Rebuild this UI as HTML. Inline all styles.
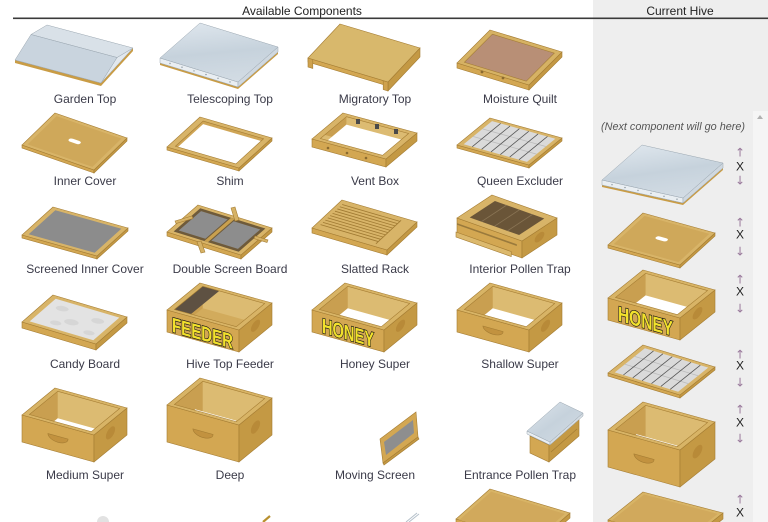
<!DOCTYPE html>
<html><head><meta charset="utf-8"><style>
html,body{margin:0;padding:0;background:#fff;}
svg{display:block}
.s{stroke:#a57d33;stroke-width:.6px;vector-effect:non-scaling-stroke}
.m{stroke:#9aa6b0;stroke-width:.5px;vector-effect:non-scaling-stroke}
.ln{fill:none}
.ln line{stroke-width:.8px;vector-effect:non-scaling-stroke}
.lb{font-family:"Liberation Sans",sans-serif;font-size:12px;fill:#3a3a48;text-anchor:middle}
.bt{font-family:"Liberation Sans Narrow","Liberation Sans",sans-serif;font-weight:bold;fill:#f2e12c;stroke:#151515;stroke-width:1.4px;paint-order:stroke fill}
.ar{font-family:"DejaVu Sans","Liberation Sans",sans-serif;font-size:12px;fill:#9a7a9c;text-anchor:middle}
.x{font-family:"Liberation Sans",sans-serif;font-size:12px;fill:#222;text-anchor:middle}
</style></head><body>
<svg width="768" height="522" viewBox="0 0 768 522" xmlns="http://www.w3.org/2000/svg">
<defs>
<clipPath id="c6"><rect x=".06" y=".06" width=".88" height=".88"/></clipPath>
<clipPath id="c7"><rect x=".07" y=".07" width=".86" height=".86"/></clipPath>
<clipPath id="c8"><rect x=".08" y=".08" width=".84" height=".84"/></clipPath>
<linearGradient id="mt" x1="0" y1="0" x2="1" y2="1"><stop offset="0" stop-color="#dde5ec"/><stop offset=".5" stop-color="#c6d2dc"/><stop offset="1" stop-color="#d3dce4"/></linearGradient>
</defs>

<!-- panels & headers -->
<rect x="593" y="0" width="175" height="522" fill="#eeeeee"/>
<rect x="753" y="111" width="15" height="411" fill="#f5f5f5"/>
<polygon points="757,119 760,115 763,119" fill="#b0b0b0"/>
<rect x="13" y="17.5" width="755" height="1.6" fill="#3a3a3a"/>
<text x="302" y="15" class="lb" style="fill:#222">Available Components</text>
<text x="680" y="15" class="lb" style="fill:#222">Current Hive</text>

<!-- ===== Row 1 ===== -->
<!-- Garden Top -->
<polygon fill="#c99c45" points="15,60 101,83 133,48 133,51 101,86 15,63"/>
<polygon fill="#e2e8ee" class="m" points="133,48 117,57.5 101,83"/>
<polygon fill="#d9e1e8" class="m" points="47,25 133,48 117,57.5 31,34.5"/>
<polygon fill="#c9d4de" class="m" points="31,34.5 117,57.5 101,83 15,60"/>

<!-- Telescoping Top -->
<polygon fill="#c99c45" points="160,63 238,87 278,52 278,54 238,89 160,65"/>
<rect class="m" fill="#e9eef2" width="1" height="1" transform="matrix(78,24,0,5,160,58)"/>
<rect class="m" fill="#cfd8e0" width="1" height="1" transform="matrix(-40,35,0,5,278,47)"/>
<rect class="m" fill="url(#mt)" width="1" height="1" transform="matrix(78,24,-40,35,200,23)"/>
<g fill="#8a96a0"><circle cx="170" cy="63.5" r=".7"/><circle cx="182" cy="67.2" r=".7"/><circle cx="194" cy="70.9" r=".7"/><circle cx="206" cy="74.6" r=".7"/><circle cx="218" cy="78.3" r=".7"/><circle cx="230" cy="82" r=".7"/></g>

<!-- Migratory Top -->
<rect class="s" fill="#c49944" width="1" height="1" transform="matrix(-32,34,0,9,420,48)"/>
<rect class="s" fill="#d3a752" width="1" height="1" transform="matrix(80,24,0,4,308,58)"/>
<rect class="s" fill="#cfa24e" width=".06" height="1" transform="matrix(80,24,0,9,308,58)"/>
<rect class="s" fill="#cfa24e" x=".94" width=".06" height="1" transform="matrix(80,24,0,9,308,58)"/>
<rect class="s" fill="#d8b86c" width="1" height="1" transform="matrix(80,24,-32,34,340,24)"/>

<!-- Moisture Quilt -->
<rect class="s" fill="#d3a752" width="1" height="1" transform="matrix(72,22,0,5,457,63)"/>
<rect class="s" fill="#c49944" width="1" height="1" transform="matrix(-33,33,0,5,562,52)"/>
<g transform="matrix(72,22,-33,33,490,30)">
<rect class="s" fill="#d6b264" width="1" height="1"/>
<rect class="s" fill="#b88f76" x=".07" y=".08" width=".86" height=".85"/>
</g>
<circle cx="482" cy="72" r="1.4" fill="#8a6a30"/><circle cx="503" cy="78" r="1.4" fill="#8a6a30"/>

<!-- ===== Row 2 ===== -->
<!-- Inner Cover -->
<rect class="s" fill="#d3a752" width="1" height="1" transform="matrix(72,25,0,3,22,145)"/>
<rect class="s" fill="#c49944" width="1" height="1" transform="matrix(-33,32,0,3,127,138)"/>
<g transform="matrix(72,25,-33,32,55,113)">
<rect class="s" fill="#d8b468" width="1" height="1"/>
<rect fill="#cfa85a" x=".05" y=".06" width=".9" height=".88"/>
<rect fill="#fff" x=".42" y=".45" width=".16" height=".09" rx=".04"/>
</g>

<!-- Shim -->
<rect class="s" fill="#d3a752" width="1" height="1" transform="matrix(72,21,0,3,167,147)"/>
<rect class="s" fill="#c49944" width="1" height="1" transform="matrix(-33,30,0,3,272,138)"/>
<g transform="matrix(72,21,-33,30,200,117)">
<rect class="s" fill="#d8b468" width="1" height="1"/>
<g clip-path="url(#c8)"><rect fill="#cfa555" width="1" height="1"/><rect fill="#fff" x=".115" y=".156" width=".84" height=".84"/></g>
<rect class="s" fill="none" x=".08" y=".08" width=".84" height=".84"/>
</g>

<!-- Vent Box -->
<rect class="s" fill="#d3a752" width="1" height="1" transform="matrix(74,20,0,8,312,139)"/>
<rect class="s" fill="#c49944" width="1" height="1" transform="matrix(-31,26,0,8,417,133)"/>
<g transform="matrix(74,20,-31,26,343,113)">
<rect class="s" fill="#d8b468" width="1" height="1"/>
<g clip-path="url(#c8)"><rect fill="#dcbb72" width="1" height="1"/><polygon fill="#c99f50" points=".08,.08 .371,.779 -.1,.779"/><rect fill="#fff" x=".177" y=".313" width=".84" height=".84"/></g>
<rect class="s" fill="none" x=".08" y=".08" width=".84" height=".84"/>
</g>
<g fill="#4a4a4a"><rect x="356" y="119" width="4" height="5"/><rect x="375" y="124" width="4" height="5"/><rect x="394" y="129" width="4" height="5"/></g>
<g fill="#8a6a30"><circle cx="328" cy="148" r="1.3"/><circle cx="347" cy="153" r="1.3"/><circle cx="366" cy="158" r="1.3"/></g>

<!-- Queen Excluder -->
<rect class="s" fill="#d3a752" width="1" height="1" transform="matrix(72,20,0,3,457,145)"/>
<rect class="s" fill="#c49944" width="1" height="1" transform="matrix(-33,27,0,3,562,138)"/>
<g transform="matrix(72,20,-33,27,490,118)">
<rect class="s" fill="#d8b468" width="1" height="1"/>
<rect fill="#dadada" x=".06" y=".07" width=".88" height=".86"/>
<g class="ln" stroke="#bbb"><line x1=".06" y1=".36" x2=".94" y2=".36"/><line x1=".06" y1=".64" x2=".94" y2=".64"/></g>
<g class="ln" stroke="#555"><line x1=".18" y1=".07" x2=".18" y2=".93"/><line x1=".31" y1=".07" x2=".31" y2=".93"/><line x1=".44" y1=".07" x2=".44" y2=".93"/><line x1=".57" y1=".07" x2=".57" y2=".93"/><line x1=".70" y1=".07" x2=".70" y2=".93"/><line x1=".83" y1=".07" x2=".83" y2=".93"/></g>
</g>

<!-- ===== Row 3 ===== -->
<!-- Screened Inner Cover -->
<rect class="s" fill="#d3a752" width="1" height="1" transform="matrix(75,21,0,3,22,235)"/>
<rect class="s" fill="#c49944" width="1" height="1" transform="matrix(-31,28,0,3,128,228)"/>
<g transform="matrix(75,21,-31,28,53,207)">
<rect class="s" fill="#d8b468" width="1" height="1"/>
<rect fill="#8c8c8c" x=".06" y=".07" width=".88" height=".86"/>
</g>

<!-- Double Screen Board -->
<rect class="s" fill="#d3a752" width="1" height="1" transform="matrix(74,23,0,4,167,232)"/>
<rect class="s" fill="#c49944" width="1" height="1" transform="matrix(-31,27,0,4,272,228)"/>
<g transform="matrix(74,23,-31,27,198,205)">
<rect class="s" fill="#d8b468" width="1" height="1"/>
<rect fill="#6e5a3a" x=".06" y=".07" width=".88" height=".86"/>
<rect fill="#8d8d8d" x=".1" y=".14" width=".36" height=".72"/>
<rect fill="#8d8d8d" x=".54" y=".14" width=".36" height=".72"/>
<rect fill="#c9a04e" x=".475" y=".07" width=".05" height=".86"/>
</g>
<g class="s" fill="#d6b266">
<polygon points="175,221 192,216 193,218.5 176,223.5"/>
<polygon points="231,208 235,207 239,220 235,221"/>
<polygon points="255,236 268,240 267,242.5 254,238.5"/>
<polygon points="197,242 201,241 205,252 201,253"/>
</g>

<!-- Slatted Rack -->
<rect class="s" fill="#d3a752" width="1" height="1" transform="matrix(75,22,0,5,312,228)"/>
<rect class="s" fill="#c49944" width="1" height="1" transform="matrix(-30,28,0,5,417,222)"/>
<g transform="matrix(75,22,-30,28,342,200)">
<rect class="s" fill="#d8b468" width="1" height="1"/>
<g class="ln" stroke="#a07a32"><line x1=".05" y1=".12" x2=".82" y2=".12"/><line x1=".05" y1=".2" x2=".82" y2=".2"/><line x1=".05" y1=".28" x2=".82" y2=".28"/><line x1=".05" y1=".36" x2=".82" y2=".36"/><line x1=".05" y1=".44" x2=".82" y2=".44"/><line x1=".05" y1=".52" x2=".82" y2=".52"/><line x1=".05" y1=".6" x2=".82" y2=".6"/><line x1=".05" y1=".68" x2=".82" y2=".68"/><line x1=".05" y1=".76" x2=".82" y2=".76"/><line x1=".05" y1=".84" x2=".82" y2=".84"/><line x1=".82" y1=".08" x2=".82" y2=".92"/></g>
</g>

<!-- Interior Pollen Trap -->
<rect class="s" fill="#d3a752" width="1" height="1" transform="matrix(65,23,0,17,457,218)"/>
<rect fill="#9a7a3c" x="0" y=".3" width=".92" height=".1" transform="matrix(65,23,0,17,457,218)"/>
<rect class="s" fill="#c49944" width="1" height="1" transform="matrix(-35,23,0,17,557,218)"/>
<ellipse fill="#b88a38" cx=".5" cy=".45" rx=".14" ry=".25" transform="matrix(-35,23,0,17,557,218)"/>
<rect class="s" fill="#dcb96d" width=".85" height="1" transform="matrix(65,23,0,5,456,232)"/>
<g transform="matrix(65,23,-35,23,492,195)">
<rect class="s" fill="#d8b468" width="1" height="1"/>
<rect fill="#6a5538" x=".12" y=".14" width=".76" height=".72"/>
<g class="ln" stroke="#8a7555"><line x1=".3" y1=".14" x2=".3" y2=".86"/><line x1=".5" y1=".14" x2=".5" y2=".86"/><line x1=".7" y1=".14" x2=".7" y2=".86"/></g>
</g>

<!-- ===== Row 4 ===== -->
<!-- Candy Board -->
<rect class="s" fill="#d3a752" width="1" height="1" transform="matrix(74,22,0,6,22,322)"/>
<rect class="s" fill="#c49944" width="1" height="1" transform="matrix(-31,27,0,6,127,317)"/>
<g transform="matrix(74,22,-31,27,53,295)">
<rect class="s" fill="#d8b468" width="1" height="1"/>
<rect fill="#e3e3e3" x=".07" y=".08" width=".86" height=".84"/>
<g fill="#d6d6d6"><circle cx=".25" cy=".3" r=".08"/><circle cx=".5" cy=".6" r=".09"/><circle cx=".75" cy=".35" r=".08"/><circle cx=".35" cy=".75" r=".07"/><circle cx=".8" cy=".75" r=".07"/></g>
</g>

<!-- Hive Top Feeder -->
<rect class="s" fill="#d3a752" width="1" height="1" transform="matrix(72,20,0,22,167,310)"/>
<g transform="matrix(1,.2778,0,1,167,310)"><text class="bt" x="5" y="20.5" font-size="21" textLength="61" lengthAdjust="spacingAndGlyphs">FEEDER</text></g>
<rect class="s" fill="#c49944" width="1" height="1" transform="matrix(-33,27,0,22,272,303)"/>
<ellipse fill="#b88a38" cx=".5" cy=".42" rx=".14" ry=".22" transform="matrix(-33,27,0,22,272,303)"/>
<g transform="matrix(72,20,-33,27,200,283)">
<rect class="s" fill="#d8b466" width="1" height="1"/>
<g clip-path="url(#c7)"><rect fill="#dcbb72" width="1" height="1"/><polygon fill="#c99f50" points=".07,.07 .907,1.894 -.1,1.894"/><rect fill="#d2ab5c" x=".349" y=".678" width=".86" height=".86"/><polygon fill="#5e5142" points=".07,.07 .3,.07 .3,.93 .07,.93"/></g>
<rect class="s" fill="none" x=".07" y=".07" width=".86" height=".86"/>
</g>

<!-- Honey Super -->
<rect class="s" fill="#d3a752" width="1" height="1" transform="matrix(72,20,0,22,312,310)"/>
<g transform="matrix(1,.2778,0,1,312,310)"><text class="bt" x="10" y="20" font-size="21" textLength="52" lengthAdjust="spacingAndGlyphs">HONEY</text></g>
<rect class="s" fill="#c49944" width="1" height="1" transform="matrix(-33,27,0,22,417,303)"/>
<ellipse fill="#b88a38" cx=".5" cy=".42" rx=".14" ry=".22" transform="matrix(-33,27,0,22,417,303)"/>
<g transform="matrix(72,20,-33,27,345,283)">
<rect class="s" fill="#d8b466" width="1" height="1"/>
<g clip-path="url(#c7)"><rect fill="#dcbb72" width="1" height="1"/><polygon fill="#c99f50" points=".07,.07 .907,1.894 -.1,1.894"/><rect fill="#fff" x=".349" y=".678" width=".86" height=".86"/></g>
<rect class="s" fill="none" x=".07" y=".07" width=".86" height=".86"/>
</g>

<!-- Shallow Super -->
<rect class="s" fill="#d3a752" width="1" height="1" transform="matrix(72,20,0,22,457,310)"/>
<path class="s" fill="#c2923f" d="M.36,.4 A.14,.25 0 0 0 .64,.4Z" transform="matrix(72,20,0,22,457,310)"/>
<rect class="s" fill="#c49944" width="1" height="1" transform="matrix(-33,27,0,22,562,303)"/>
<ellipse fill="#b88a38" cx=".5" cy=".42" rx=".14" ry=".22" transform="matrix(-33,27,0,22,562,303)"/>
<g transform="matrix(72,20,-33,27,490,283)">
<rect class="s" fill="#d8b466" width="1" height="1"/>
<g clip-path="url(#c7)"><rect fill="#dcbb72" width="1" height="1"/><polygon fill="#c99f50" points=".07,.07 .907,1.894 -.1,1.894"/><rect fill="#fff" x=".349" y=".678" width=".86" height=".86"/></g>
<rect class="s" fill="none" x=".07" y=".07" width=".86" height=".86"/>
</g>

<!-- ===== Row 5 ===== -->
<!-- Medium Super -->
<rect class="s" fill="#d3a752" width="1" height="1" transform="matrix(72,20,0,27,22,415)"/>
<path class="s" fill="#c2923f" d="M.36,.42 A.14,.22 0 0 0 .64,.42Z" transform="matrix(72,20,0,27,22,415)"/>
<rect class="s" fill="#c49944" width="1" height="1" transform="matrix(-33,27,0,27,127,408)"/>
<ellipse fill="#b88a38" cx=".5" cy=".42" rx=".14" ry=".2" transform="matrix(-33,27,0,27,127,408)"/>
<g transform="matrix(72,20,-33,27,55,388)">
<rect class="s" fill="#d8b466" width="1" height="1"/>
<g clip-path="url(#c7)"><rect fill="#dcbb72" width="1" height="1"/><polygon fill="#c99f50" points=".07,.07 1.096,2.308 -.1,2.308"/><rect fill="#fff" x=".412" y=".816" width=".86" height=".86"/></g>
<rect class="s" fill="none" x=".07" y=".07" width=".86" height=".86"/>
</g>

<!-- Deep -->
<rect class="s" fill="#d3a752" width="1" height="1" transform="matrix(72,20,0,37,167,405)"/>
<path class="s" fill="#c2923f" d="M.36,.45 A.14,.16 0 0 0 .64,.45Z" transform="matrix(72,20,0,37,167,405)"/>
<rect class="s" fill="#c49944" width="1" height="1" transform="matrix(-33,27,0,37,272,398)"/>
<ellipse fill="#b88a38" cx=".5" cy=".42" rx=".14" ry=".15" transform="matrix(-33,27,0,37,272,398)"/>
<g transform="matrix(72,20,-33,27,200,378)">
<rect class="s" fill="#d8b466" width="1" height="1"/>
<g clip-path="url(#c7)"><rect fill="#dcbb72" width="1" height="1"/><polygon fill="#c99f50" points=".07,.07 1.477,3.139 -.1,3.139"/></g>
<line x1=".35" y1=".92" x2=".92" y2=".92" stroke="#fff" style="stroke-width:1.2px;vector-effect:non-scaling-stroke"/>
<rect class="s" fill="none" x=".07" y=".07" width=".86" height=".86"/>
</g>

<!-- Moving Screen -->
<polygon class="s" fill="#d3a752" points="380,439 416,412 418,437 383,463"/>
<polygon fill="#8e8e8e" points="384,442 413,420 414,433 386,455"/>
<polygon class="s" fill="#c49944" points="383,463 418,437 419,439 384,465"/>

<!-- Entrance Pollen Trap -->
<polygon class="s" fill="#d3a752" points="530,436 549,445 549,462 530,453"/>
<polygon class="s" fill="#c49944" points="549,445 579,419 579,436 549,462"/>
<line x1="551" y1="452" x2="577" y2="429" stroke="#a57d33" stroke-width=".8"/>
<polygon class="m" fill="#e9eef2" points="527,431 550,442 550,445 527,434"/>
<polygon class="m" fill="#d5dde4" points="550,442 583,413 583,416 550,445"/>
<polygon class="m" fill="url(#mt)" points="560,402 583,413 550,442 527,431"/>

<!-- Row 6 partial -->
<path d="M97,522 A6,6 0 0 1 109,522" fill="#e2e2e2"/>
<line x1="263" y1="522" x2="270" y2="516" stroke="#b8902f" stroke-width="2.2"/>
<g stroke="#b5c0ca" stroke-width="1"><line x1="406" y1="522" x2="417" y2="513"/><line x1="409" y1="522" x2="419" y2="514"/></g>
<rect class="s" fill="#d3a752" width="1" height="1" transform="matrix(80,24,0,5,456,519)"/>
<rect class="s" fill="#c49944" width="1" height="1" transform="matrix(-34,30,0,5,570,513)"/>
<g transform="matrix(80,24,-34,30,490,489)">
<rect class="s" fill="#d8b466" width="1" height="1"/>
<rect fill="#d1a95c" x=".04" y=".06" width=".92" height=".94"/>
</g>

<!-- Labels -->
<text class="lb" x="85" y="103">Garden Top</text>
<text class="lb" x="230" y="103">Telescoping Top</text>
<text class="lb" x="375" y="103">Migratory Top</text>
<text class="lb" x="520" y="103">Moisture Quilt</text>
<text class="lb" x="85" y="185">Inner Cover</text>
<text class="lb" x="230" y="185">Shim</text>
<text class="lb" x="375" y="185">Vent Box</text>
<text class="lb" x="520" y="185">Queen Excluder</text>
<text class="lb" x="85" y="273">Screened Inner Cover</text>
<text class="lb" x="230" y="273">Double Screen Board</text>
<text class="lb" x="375" y="273">Slatted Rack</text>
<text class="lb" x="520" y="273">Interior Pollen Trap</text>
<text class="lb" x="85" y="368">Candy Board</text>
<text class="lb" x="230" y="368">Hive Top Feeder</text>
<text class="lb" x="375" y="368">Honey Super</text>
<text class="lb" x="520" y="368">Shallow Super</text>
<text class="lb" x="85" y="479">Medium Super</text>
<text class="lb" x="230" y="479">Deep</text>
<text class="lb" x="375" y="479">Moving Screen</text>
<text class="lb" x="520" y="479">Entrance Pollen Trap</text>

<!-- ===== Current Hive ===== -->
<text x="673" y="130" text-anchor="middle" font-family="Liberation Sans, sans-serif" font-style="italic" font-size="11" fill="#555" textLength="144" lengthAdjust="spacingAndGlyphs">(Next component will go here)</text>

<!-- H1 telescoping -->
<polygon fill="#c99c45" points="602,185 683,203 723,168 723,170 683,205 602,187"/>
<rect class="m" fill="#e9eef2" width="1" height="1" transform="matrix(81,18,0,5,602,180)"/>
<rect class="m" fill="#cfd8e0" width="1" height="1" transform="matrix(-40,35,0,5,723,163)"/>
<rect class="m" fill="url(#mt)" width="1" height="1" transform="matrix(81,18,-40,35,642,145)"/>
<g fill="#8a96a0"><circle cx="612" cy="184.7" r=".7"/><circle cx="625" cy="187.6" r=".7"/><circle cx="638" cy="190.5" r=".7"/><circle cx="651" cy="193.4" r=".7"/><circle cx="664" cy="196.3" r=".7"/><circle cx="677" cy="199.2" r=".7"/></g>

<!-- H2 inner cover -->
<rect class="s" fill="#d3a752" width="1" height="1" transform="matrix(72,20,0,3,608,245)"/>
<rect class="s" fill="#c49944" width="1" height="1" transform="matrix(-35,32,0,3,715,233)"/>
<g transform="matrix(72,20,-35,32,643,213)">
<rect class="s" fill="#d8b468" width="1" height="1"/>
<rect fill="#cfa85a" x=".05" y=".06" width=".9" height=".88"/>
<rect fill="#fff" x=".42" y=".45" width=".16" height=".09" rx=".04"/>
</g>

<!-- H3 honey super -->
<rect class="s" fill="#d3a752" width="1" height="1" transform="matrix(72,20,0,22,608,298)"/>
<g transform="matrix(1,.2778,0,1,608,298)"><text class="bt" x="10" y="20" font-size="21" textLength="55" lengthAdjust="spacingAndGlyphs">HONEY</text></g>
<rect class="s" fill="#c49944" width="1" height="1" transform="matrix(-35,28,0,22,715,290)"/>
<ellipse fill="#b88a38" cx=".5" cy=".42" rx=".14" ry=".22" transform="matrix(-35,28,0,22,715,290)"/>
<g transform="matrix(72,20,-35,28,643,270)">
<rect class="s" fill="#d8b466" width="1" height="1"/>
<g clip-path="url(#c7)"><rect fill="#dcbb72" width="1" height="1"/><polygon fill="#c99f50" points=".07,.07 .919,1.819 -.1,1.819"/><rect fill="#fff" x=".353" y=".653" width=".86" height=".86"/></g>
<rect class="s" fill="none" x=".07" y=".07" width=".86" height=".86"/>
</g>

<!-- H4 queen excluder -->
<rect class="s" fill="#d3a752" width="1" height="1" transform="matrix(72,22,0,3,608,373)"/>
<rect class="s" fill="#c49944" width="1" height="1" transform="matrix(-35,28,0,3,715,367)"/>
<g transform="matrix(72,22,-35,28,643,345)">
<rect class="s" fill="#d8b468" width="1" height="1"/>
<rect fill="#dadada" x=".06" y=".07" width=".88" height=".86"/>
<g class="ln" stroke="#bbb"><line x1=".06" y1=".36" x2=".94" y2=".36"/><line x1=".06" y1=".64" x2=".94" y2=".64"/></g>
<g class="ln" stroke="#555"><line x1=".18" y1=".07" x2=".18" y2=".93"/><line x1=".31" y1=".07" x2=".31" y2=".93"/><line x1=".44" y1=".07" x2=".44" y2=".93"/><line x1=".57" y1=".07" x2=".57" y2=".93"/><line x1=".70" y1=".07" x2=".70" y2=".93"/><line x1=".83" y1=".07" x2=".83" y2=".93"/></g>
</g>

<!-- H5 deep -->
<rect class="s" fill="#d3a752" width="1" height="1" transform="matrix(72,20,0,37,608,430)"/>
<path class="s" fill="#c2923f" d="M.36,.45 A.14,.16 0 0 0 .64,.45Z" transform="matrix(72,20,0,37,608,430)"/>
<rect class="s" fill="#c49944" width="1" height="1" transform="matrix(-35,28,0,37,715,422)"/>
<ellipse fill="#b88a38" cx=".5" cy=".42" rx=".14" ry=".15" transform="matrix(-35,28,0,37,715,422)"/>
<g transform="matrix(72,20,-35,28,643,402)">
<rect class="s" fill="#d8b466" width="1" height="1"/>
<g clip-path="url(#c7)"><rect fill="#dcbb72" width="1" height="1"/><polygon fill="#c99f50" points=".07,.07 1.501,3.013 -.1,3.013"/></g>
<line x1=".35" y1=".92" x2=".92" y2=".92" stroke="#fff" style="stroke-width:1.2px;vector-effect:non-scaling-stroke"/>
<rect class="s" fill="none" x=".07" y=".07" width=".86" height=".86"/>
</g>

<!-- H6 bottom board -->
<rect class="s" fill="#d3a752" width="1" height="1" transform="matrix(80,21,0,6,608,520)"/>
<rect class="s" fill="#c49944" width="1" height="1" transform="matrix(-35,28,0,6,723,513)"/>
<g transform="matrix(80,21,-35,28,643,492)">
<rect class="s" fill="#d8b466" width="1" height="1"/>
<rect fill="#d1a95c" x=".04" y=".06" width=".92" height=".94"/>
</g>

<!-- arrows -->
<text class="ar" x="740" y="156.5">↑</text><text class="x" x="740" y="170.3">X</text><text class="ar" x="740" y="184.5">↓</text>
<text class="ar" x="740" y="226.5">↑</text><text class="x" x="740" y="238.3">X</text><text class="ar" x="740" y="255.5">↓</text>
<text class="ar" x="740" y="283.5">↑</text><text class="x" x="740" y="295.3">X</text><text class="ar" x="740" y="312.5">↓</text>
<text class="ar" x="740" y="358.5">↑</text><text class="x" x="740" y="369.3">X</text><text class="ar" x="740" y="386.5">↓</text>
<text class="ar" x="740" y="413.5">↑</text><text class="x" x="740" y="426.3">X</text><text class="ar" x="740" y="442.5">↓</text>
<text class="ar" x="740" y="503.5">↑</text><text class="x" x="740" y="516.3">X</text>
</svg>
</body></html>
